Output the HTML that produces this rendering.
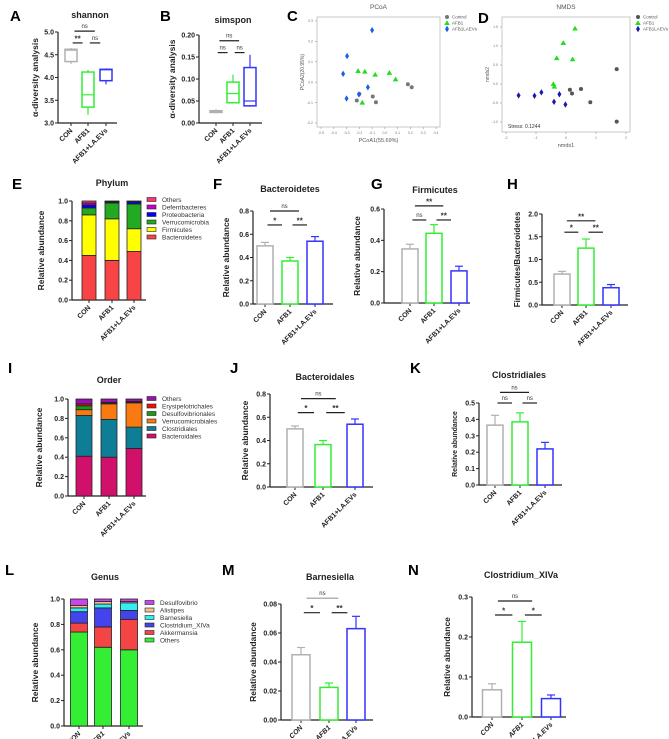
<!DOCTYPE html>
<html><head><meta charset="utf-8">
<style>
html,body{margin:0;padding:0;background:#fff;}
svg{display:block;font-family:"Liberation Sans",Arial,sans-serif;}
</style></head>
<body>
<svg id="fig" width="669" height="739" viewBox="0 0 669 739" xmlns="http://www.w3.org/2000/svg"></svg>
<script>
const groups = ["CON","AFB1","AFB1+LA.EVs"];
const groupColors = ["#b0b0b0","#33ee33","#3333ff"];

// Shannon box
const shannonMin = [4.30,3.18,3.85];
const shannonQ1  = [4.35,3.35,3.93];
const shannonMed = [4.60,3.62,4.17];
const shannonQ3  = [4.62,4.12,4.18];
const shannonMax = [4.65,4.17,4.20];
const shannonTicks = ["3.0","3.5","4.0","4.5","5.0"];
// Simpson box
const simpMin = [0.022,0.045,0.037];
const simpQ1  = [0.024,0.046,0.039];
const simpMed = [0.026,0.067,0.050];
const simpQ3  = [0.028,0.093,0.126];
const simpMax = [0.031,0.110,0.155];
const simpTicks = ["0.00","0.05","0.10","0.15","0.20"];

// PCoA
const pcoaCtrlX = [0.18,0.21,-0.095,-0.07,-0.22,-0.20];
const pcoaCtrlY = [-0.01,-0.025,-0.07,-0.098,-0.09,-0.057];
const pcoaAfbX = [-0.21,-0.157,-0.076,0.035,0.084,-0.177];
const pcoaAfbY = [0.055,0.052,0.037,0.046,0.014,-0.10];
const pcoaLaX = [-0.10,-0.296,-0.327,-0.133,-0.203,-0.30];
const pcoaLaY = [0.255,0.128,0.041,-0.025,-0.06,-0.08];
const pcoaXTicks = ["-0.5","-0.4","-0.3","-0.2","-0.1","0.0","0.1","0.2","0.3","0.4"];
const pcoaYTicks = ["-0.2","-0.1","0.0","0.1","0.2","0.3"];
// NMDS
const nmdsCtrlX = [1.69,1.69,0.13,0.5,0.2,0.81];
const nmdsCtrlY = [0.39,-0.99,-0.15,-0.13,-0.25,-0.48];
const nmdsAfbX = [0.3,-0.09,-0.31,0.22,-0.42,-0.39];
const nmdsAfbY = [1.46,1.08,0.68,0.65,0.0,-0.07];
const nmdsLaX = [-1.58,-1.05,-0.82,-0.22,-0.4,-0.02];
const nmdsLaY = [-0.3,-0.31,-0.22,-0.27,-0.47,-0.54];
const nmdsXTicks = ["-2","-1","0","1","2"];
const nmdsYTicks = ["-1.0","-0.5","0.0","0.5","1.0","1.5"];

// Phylum stacked (bottom to top)
const phylumNames = ["Bacteroidetes","Firmicutes","Verrucomicrobia","Proteobacteria","Deferribacteres","Others"];
const phylumColors = ["#f84444","#ffff00","#22aa22","#0000ff","#cc00cc","#ff3377"];
const phylumCON  = [0.45,0.41,0.07,0.03,0.02,0.02];
const phylumAFB1 = [0.40,0.42,0.16,0.01,0.005,0.005];
const phylumLA   = [0.49,0.23,0.25,0.02,0.005,0.005];
// Order stacked
const orderNames = ["Bacteroidales","Clostridiales","Verrucomicrobiales","Desulfovibrionales","Erysipelotrichales","Others"];
const orderColors = ["#d0106a","#0e7e96","#f97a10","#1a9a1a","#f01010","#9a10b0"];
const orderCON  = [0.41,0.42,0.06,0.04,0.02,0.05];
const orderAFB1 = [0.40,0.39,0.16,0.01,0.005,0.035];
const orderLA   = [0.49,0.22,0.25,0.005,0.01,0.025];
// Genus stacked
const genusNames = ["Others","Akkermansia","Clostridium_XIVa","Barnesiella","Alistipes","Desulfovibrio"];
const genusColors = ["#33ee33","#f44444","#4444ee","#33eeee","#f0c090","#cc44ee"];
const genusCON  = [0.74,0.07,0.09,0.03,0.02,0.05];
const genusAFB1 = [0.62,0.16,0.15,0.03,0.02,0.02];
const genusLA   = [0.60,0.24,0.07,0.06,0.01,0.02];
const stackTicks = ["0.0","0.2","0.4","0.6","0.8","1.0"];

// Bar charts
const bactMean = [0.50,0.37,0.54];  const bactErr = [0.03,0.03,0.04];
const firmMean = [0.345,0.445,0.205]; const firmErr = [0.03,0.055,0.03];
const ratioMean = [0.68,1.25,0.38];  const ratioErr = [0.06,0.2,0.07];
const bactoMean = [0.50,0.365,0.54]; const bactoErr = [0.025,0.035,0.045];
const clostMean = [0.365,0.385,0.22]; const clostErr = [0.06,0.055,0.04];
const barnMean = [0.045,0.0225,0.063]; const barnErr = [0.005,0.003,0.0085];
const xivaMean = [0.068,0.187,0.046]; const xivaErr = [0.015,0.052,0.009];
const ticks08 = ["0.0","0.2","0.4","0.6","0.8"];
const ticks06 = ["0.0","0.2","0.4","0.6"];
const ticks20 = ["0.0","0.5","1.0","1.5","2.0"];
const ticks05 = ["0.0","0.1","0.2","0.3","0.4","0.5"];
const ticks008 = ["0.00","0.02","0.04","0.06","0.08"];
const ticks03 = ["0.0","0.1","0.2","0.3"];

const NS = "http://www.w3.org/2000/svg";
const svg = document.getElementById('fig');
function mk(tag, attrs, parent, txt){
  const e = document.createElementNS(NS, tag);
  for (const k in attrs) e.setAttribute(k, attrs[k]);
  if (txt !== undefined) e.textContent = txt;
  (parent || svg).appendChild(e);
  return e;
}
function panelGroup(name){
  const g = mk('g', {});
  
  
  return g;
}
function letter(g, t, x, y){
  const e = mk('text', {x:x, y:y, 'font-size':15, 'font-weight':'bold'}, g, t);
  
  
}
function sc(v, c){ return c.y0 - (v - c.vmin)/(c.vmax - c.vmin)*(c.y0 - c.y1); }

function axes(g, c){
  const ya = mk('line', {x1:c.ax, y1:c.y1, x2:c.ax, y2:c.y0, stroke:'#222', 'stroke-width':1.2}, g);
  
  
  const n = c.ticks.length;
  c.ticks.forEach((t, i) => {
    const v = c.vmin + (c.vmax - c.vmin)*i/(n-1);
    const y = sc(v, c);
    mk('line', {x1:c.ax-3, y1:y, x2:c.ax, y2:y, stroke:'#222', 'stroke-width':1}, g);
    const tl = mk('text', {x:c.ax-4, y:y+2.5, 'font-size':7, 'font-weight':'bold', 'text-anchor':'end', fill:'#222'}, g, t);
    
    
  });
  const xa = mk('line', {x1:c.ax, y1:c.y0, x2:c.xend, y2:c.y0, stroke:'#222', 'stroke-width':1.2}, g);
  
  
  c.cx.forEach((x, i) => {
    mk('line', {x1:x, y1:c.y0, x2:x, y2:c.y0+3, stroke:'#222', 'stroke-width':1}, g);
    const xl = mk('text', {x:x+2, y:c.y0+8, 'font-size':7, 'font-weight':'bold', 'text-anchor':'end', fill:'#222', 'font-style':c.italic?'italic':'normal', transform:`rotate(-45 ${x+2} ${c.y0+8})`}, g, groups[i]);
    
    
  });
  const ymid = (c.y0 + c.y1)/2;
  const yl = mk('text', {x:c.ax-c.ylOff, y:ymid, 'font-size':c.ylSize||8.5, 'font-weight':'bold', 'text-anchor':'middle', fill:'#222', transform:`rotate(-90 ${c.ax-c.ylOff} ${ymid})`}, g, c.ylabel);
  
  
  const tt = mk('text', {x:c.tx, y:c.ty, 'font-size':c.tsize||9, 'font-weight':'bold', 'text-anchor':'middle', fill:'#222'}, g, c.title);
  
  
}
function sigs(g, c){
  (c.sig || []).forEach(s => {
    const a = c.cx[s[0]], b = c.cx[s[1]], d = b - a;
    const x1 = a + 0.1*d, x2 = b - 0.32*d, y = sc(s[2], c);
    const l = mk('line', {x1:x1, y1:y, x2:x2, y2:y, stroke:s[4]||'#222', 'stroke-width':1.2}, g);
    
    
    const isNs = s[3] === 'ns';
    const t = mk('text', {x:(x1+x2)/2, y:isNs? y-3 : y-1.5, 'font-size':isNs?6:8, 'font-weight':isNs?'normal':'bold', 'text-anchor':'middle', fill:'#333'}, g, s[3]);
    
    
  });
}
function barChart(name, c, mean, err){
  const g = panelGroup(name);
  axes(g, c);
  mean.forEach((m, i) => {
    const x = c.cx[i], w = c.bw;
    const yt = sc(m, c), ye = sc(m + err[i], c);
    const el = mk('line', {x1:x, y1:yt, x2:x, y2:ye, stroke:groupColors[i], 'stroke-width':1.2}, g);
    
    
    mk('line', {x1:x-4, y1:ye, x2:x+4, y2:ye, stroke:groupColors[i], 'stroke-width':1.2}, g);
    const r = mk('rect', {x:x-w/2, y:yt, width:w, height:c.y0-yt, fill:'#fff', stroke:groupColors[i], 'stroke-width':1.5}, g);
    
    
  });
  sigs(g, c);
}
function boxChart(name, c, mn, q1, md, q3, mx){
  const g = panelGroup(name);
  axes(g, c);
  md.forEach((m, i) => {
    const x = c.cx[i], w = c.bw, col = groupColors[i];
    mk('line', {x1:x, y1:sc(mx[i],c), x2:x, y2:sc(q3[i],c), stroke:col, 'stroke-width':1.2}, g);
    mk('line', {x1:x, y1:sc(q1[i],c), x2:x, y2:sc(mn[i],c), stroke:col, 'stroke-width':1.2}, g);
    const b = mk('rect', {x:x-w/2, y:sc(q3[i],c), width:w, height:sc(q1[i],c)-sc(q3[i],c), fill:'#fff', stroke:col, 'stroke-width':1.5}, g);
    
    
    const ml = mk('line', {x1:x-w/2, y1:sc(m,c), x2:x+w/2, y2:sc(m,c), stroke:col, 'stroke-width':1.2}, g);
    
    
  });
  sigs(g, c);
}
function stackChart(name, c, series, names, colors, lg){
  const g = panelGroup(name);
  axes(g, c);
  series.forEach((vals, i) => {
    let acc = 0;
    const x = c.cx[i], w = c.bw;
    vals.forEach((v, k) => {
      const yb = sc(acc, c), yt = sc(acc + v, c);
      const r = mk('rect', {x:x-w/2, y:yt, width:w, height:yb-yt, fill:colors[k], stroke:'#222', 'stroke-width':0.8}, g);
      
      
      acc += v;
    });
  });
  for (let k = names.length-1, j = 0; k >= 0; k--, j++){
    const y = lg.y + j*lg.step;
    const sw = mk('rect', {x:lg.x, y:y-3.5, width:9, height:4, fill:colors[k], stroke:'#222', 'stroke-width':0.6}, g);
    
    
    const t = mk('text', {x:lg.x+15, y:y+1, 'font-size':6.5, fill:'#333'}, g, names[k]);
    
    
  }
}
function scatter(name, c, sets, legend){
  const g = panelGroup(name);
  const fr = mk('rect', {x:c.l, y:c.t, width:c.r-c.l, height:c.b-c.t, fill:'#fff', stroke:'#bbb', 'stroke-width':0.8}, g);
  
  
  const xs = v => c.l + c.xpad + (v - c.xmin)/(c.xmax - c.xmin)*(c.r - c.l - 2*c.xpad);
  const ys = v => c.b - c.ypad - (v - c.ymin)/(c.ymax - c.ymin)*(c.b - c.t - 2*c.ypad);
  c.xt.forEach((t, i) => {
    const v = c.xmin + (c.xmax - c.xmin)*i/(c.xt.length-1);
    mk('line', {x1:xs(v), y1:c.b, x2:xs(v), y2:c.b+2, stroke:'#999', 'stroke-width':0.6}, g);
    const e = mk('text', {x:xs(v), y:c.b+7, 'font-size':3.5, 'text-anchor':'middle', fill:'#777'}, g, t);
    
    
  });
  c.yt.forEach((t, i) => {
    const v = c.ymin + (c.ymax - c.ymin)*i/(c.yt.length-1);
    mk('line', {x1:c.l-2, y1:ys(v), x2:c.l, y2:ys(v), stroke:'#999', 'stroke-width':0.6}, g);
    const e = mk('text', {x:c.l-4, y:ys(v)+1.2, 'font-size':3.5, 'text-anchor':'end', fill:'#777'}, g, t);
    
    
  });
  const xl = mk('text', {x:(c.l+c.r)/2, y:c.b+15, 'font-size':5.5, 'text-anchor':'middle', fill:'#555'}, g, c.xlabel);
  
  
  const ym = (c.t+c.b)/2;
  const yl = mk('text', {x:c.l-13, y:ym, 'font-size':5, 'text-anchor':'middle', fill:'#555', transform:`rotate(-90 ${c.l-13} ${ym})`}, g, c.ylabel);
  
  
  const tt = mk('text', {x:(c.l+c.r)/2, y:c.t-8, 'font-size':6.5, 'text-anchor':'middle', fill:'#555'}, g, c.title);
  
  
  function marker(px, py, s){
    let e;
    if (s.shape === 'c') e = mk('circle', {cx:px, cy:py, r:2, fill:s.color}, g);
    else if (s.shape === 't') e = mk('polygon', {points:`${px},${py-2.8} ${px-2.8},${py+2} ${px+2.8},${py+2}`, fill:s.color}, g);
    else e = mk('polygon', {points:`${px},${py-3.2} ${px-2},${py} ${px},${py+3.2} ${px+2},${py}`, fill:s.color}, g);
    return e;
  }
  sets.forEach(s => {
    s.x.forEach((v, i) => {
      const p = marker(xs(v), ys(s.y[i]), s);
      
      
    });
  });
  sets.forEach((s, j) => {
    const y = legend.y + j*6;
    marker(legend.x, y, s);
    const t = mk('text', {x:legend.x+5, y:y+1.7, 'font-size':4.5, fill:'#555'}, g, s.label);
    
    
  });
  if (c.note){
    const n = mk('text', {x:c.l+6, y:c.b-4, 'font-size':5, fill:'#333'}, g, c.note);
    
    
  }
}

// Panel letters
const lg0 = panelGroup('panel-letters');
[["A",10,21],["B",160,21],["C",287,21],["D",478,23],["E",12,189],["F",213,189],["G",371,189],["H",507,189],
 ["I",8,373],["J",230,373],["K",410,373],["L",5,575],["M",222,575],["N",408,575]].forEach(p => letter(lg0, p[0], p[1], p[2]));

boxChart('panel-a-shannon', {ax:58, y0:123, y1:32, vmin:3, vmax:5, ticks:shannonTicks, xend:117, cx:[71,88,106], bw:12,
  ylabel:'α-diversity analysis', ylOff:20, title:'shannon', tx:90, ty:18,
  sig:[[0,1,4.76,'**'],[1,2,4.76,'ns'],[0,2,5.02,'ns']]}, shannonMin, shannonQ1, shannonMed, shannonQ3, shannonMax);
boxChart('panel-b-simpson', {ax:199, y0:123, y1:35, vmin:0, vmax:0.2, ticks:simpTicks, xend:262, cx:[216,233,250], bw:12,
  ylabel:'α-diversity analysis', ylOff:24, title:'simspon', tx:233, ty:23,
  sig:[[0,1,0.16,'ns'],[1,2,0.16,'ns'],[0,2,0.187,'ns']]}, simpMin, simpQ1, simpMed, simpQ3, simpMax);

scatter('panel-c-pcoa', {l:317, r:440, t:17, b:127, xmin:-0.5, xmax:0.4, ymin:-0.2, ymax:0.3, xpad:4, ypad:4,
  xt:pcoaXTicks, yt:pcoaYTicks, xlabel:'PCoA1(55.69%)', ylabel:'PCoA2(20.95%)', title:'PCoA'},
  [{key:'control', label:'Control', shape:'c', color:'#777', x:pcoaCtrlX, y:pcoaCtrlY},
   {key:'afb1', label:'AFB1', shape:'t', color:'#22dd22', x:pcoaAfbX, y:pcoaAfbY},
   {key:'afb1-la-evs', label:'AFB1LAEVs', shape:'d', color:'#1a5fe8', x:pcoaLaX, y:pcoaLaY}], {x:447, y:17});
scatter('panel-d-nmds', {l:502, r:630, t:17, b:132, xmin:-2, xmax:2, ymin:-1, ymax:1.5, xpad:4, ypad:10,
  xt:nmdsXTicks, yt:nmdsYTicks, xlabel:'nmds1', ylabel:'nmds2', title:'NMDS', note:'Stress: 0.1244'},
  [{key:'control', label:'Control', shape:'c', color:'#555', x:nmdsCtrlX, y:nmdsCtrlY},
   {key:'afb1', label:'AFB1', shape:'t', color:'#22dd22', x:nmdsAfbX, y:nmdsAfbY},
   {key:'afb1-la-evs', label:'AFB1LAEVs', shape:'d', color:'#1a1aa8', x:nmdsLaX, y:nmdsLaY}], {x:638, y:17});

stackChart('panel-e-phylum', {ax:72, y0:300, y1:201, vmin:0, vmax:1, ticks:stackTicks, xend:146, cx:[89,112,134], bw:14,
  ylabel:'Relative abundance', ylOff:28, title:'Phylum', tx:112, ty:186},
  [phylumCON, phylumAFB1, phylumLA], phylumNames, phylumColors, {x:147, y:201, step:7.5});
barChart('panel-f-bacteroidetes', {ax:253, y0:304, y1:211, vmin:0, vmax:0.8, ticks:ticks08, xend:333, cx:[265,290,315], bw:16,
  ylabel:'Relative abundance', ylOff:24, title:'Bacteroidetes', tx:290, ty:192,
  sig:[[0,1,0.68,'*'],[1,2,0.68,'**'],[0,2,0.8,'ns']]}, bactMean, bactErr);
barChart('panel-g-firmicutes', {ax:384, y0:303, y1:209, vmin:0, vmax:0.6, ticks:ticks06, xend:470, cx:[410,434,459], bw:16,
  ylabel:'Relative abundance', ylOff:24, title:'Firmicutes', tx:435, ty:193,
  sig:[[0,1,0.53,'ns'],[1,2,0.53,'**'],[0,2,0.62,'**']]}, firmMean, firmErr);
barChart('panel-h-ratio', {ax:542, y0:305, y1:214, vmin:0, vmax:2, ticks:ticks20, xend:628, cx:[562,586,611], bw:16,
  ylabel:'Firmicutes/Bacteroidetes', ylOff:22, ylSize:8, title:'', tx:585, ty:192,
  sig:[[0,1,1.6,'*'],[1,2,1.6,'**'],[0,2,1.85,'**']]}, ratioMean, ratioErr);

stackChart('panel-i-order', {ax:68, y0:496, y1:399, vmin:0, vmax:1, ticks:stackTicks, xend:146, cx:[84,109,134], bw:16,
  ylabel:'Relative abundance', ylOff:26, title:'Order', tx:109, ty:383},
  [orderCON, orderAFB1, orderLA], orderNames, orderColors, {x:147, y:400, step:7.5});
barChart('panel-j-bacteroidales', {ax:270, y0:487, y1:394, vmin:0, vmax:0.8, ticks:ticks08, xend:373, cx:[295,323,355], bw:16,
  ylabel:'Relative abundance', ylOff:22, title:'Bacteroidales', tx:325, ty:380,
  sig:[[0,1,0.64,'*'],[1,2,0.64,'**'],[0,2,0.76,'ns']]}, bactoMean, bactoErr);
barChart('panel-k-clostridiales', {ax:479, y0:485, y1:403, vmin:0, vmax:0.5, ticks:ticks05, xend:562, cx:[495,520,545], bw:16,
  ylabel:'Relative abundance', ylOff:22, ylSize:7, title:'Clostridiales', tx:519, ty:378,
  sig:[[0,1,0.5,'ns'],[1,2,0.5,'ns'],[0,2,0.565,'ns']]}, clostMean, clostErr);

stackChart('panel-l-genus', {ax:64, y0:726, y1:599, vmin:0, vmax:1, ticks:stackTicks, xend:143, cx:[79,103,129], bw:17, italic:true,
  ylabel:'Relative abundance', ylOff:26, title:'Genus', tx:105, ty:580},
  [genusCON, genusAFB1, genusLA], genusNames, genusColors, {x:145, y:604, step:7.5});
barChart('panel-m-barnesiella', {ax:281, y0:720, y1:604, vmin:0, vmax:0.08, ticks:ticks008, xend:373, cx:[301,329,356], bw:18, italic:true,
  ylabel:'Relative abundance', ylOff:25, title:'Barnesiella', tx:330, ty:580,
  sig:[[0,1,0.074,'*'],[1,2,0.074,'**'],[0,2,0.084,'ns','#999']]}, barnMean, barnErr);
barChart('panel-n-clostridium-xiva', {ax:472, y0:717, y1:597, vmin:0, vmax:0.3, ticks:ticks03, xend:566, cx:[492,522,551], bw:19, italic:true,
  ylabel:'Relative abundance', ylOff:22, title:'Clostridium_XIVa', tx:521, ty:578,
  sig:[[0,1,0.255,'*'],[1,2,0.255,'*'],[0,2,0.29,'ns']]}, xivaMean, xivaErr);
</script>
</body></html>
